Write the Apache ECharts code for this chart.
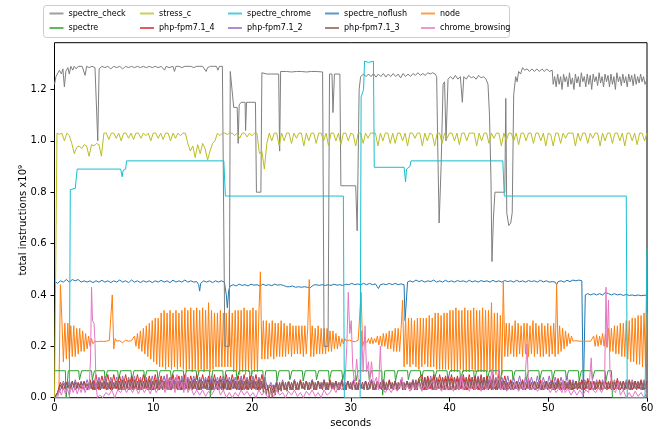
<!DOCTYPE html>
<html><head><meta charset="utf-8">
<script src="https://cdn.jsdelivr.net/npm/echarts@6.0.0/dist/echarts.min.js"></script>
<style>html,body{margin:0;padding:0;background:#fff}#c{width:660px;height:429px}</style>
</head><body><div id="c"></div>
<script>
// ---- axis ticks ----
const xTicks = [0, 10, 20, 30, 40, 50, 60];
const yTicks = [0.0, 0.2, 0.4, 0.6, 0.8, 1.0, 1.2];

// ---- sampled series (uniform time base) ----
const nodeStep = 0.15;   // seconds between samples
const node = [
.00,.01,.02,.03,.44,
.30,.14,.29,.15,.29,.15,.28,.16,.28,.16,.27,.17,.27,.18,.26,.18,
.25,.19,.24,.20,.23,.21,
.22,.225,.218,.222,.22,.224,.219,.221,.22,.218,.223,.22,
.40,.19,.23,
.22,.215,.222,.218,.214,.22,.224,.219,.22,.215,.222,.22,
.24,.20,.25,.19,.26,.18,.27,.17,.28,.16,.29,.15,.30,.14,.31,.13,.31,
.12,.33,.12,.34,.11,.33,.12,.34,.11,.33,.12,.34,.11,.33,.12,.34,.11,
.35,.10,.34,.11,.35,.10,.34,.11,.35,.10,.34,.11,.35,.10,.34,.11,.37,.10,.34,.11,
.33,.12,.33,.12,.34,.12,.33,.12,.33,.12,.34,.12,.33,
.10,.34,.10,.34,.09,.34,.10,.35,.09,.34,.10,.34,.09,.35,.10,.34,.10,.33,
.49,
.15,.30,.15,.30,.15,.29,.16,.30,.15,.29,.16,.29,.16,.30,.16,.29,.16,.28,.17,.29,.16,.28,.17,.28,.17,.28,.17,.28,.16,.28,.17,
.28,.46,
.16,.28,.16,.27,.17,.28,.17,.27,.17,.27,.17,.27,.18,.26,
.18,.26,.19,.25,.19,.24,.20,.23,.21,.23,
.22,.22,.225,.218,.22,.222,.218,.22,.224,.22,
.41,
.20,.22,.225,.215,.23,.21,.235,.21,.23,.215,.24,.205,.24,
.20,.25,.20,.25,.19,.26,.19,.26,.18,.27,.18,.27,.18,.27,
.38,
.12,.31,.13,.31,.12,.31,.13,.30,.12,.31,.11,.31,.12,.31,.13,.31,.12,.32,.12,.31,.12,
.33,.11,.33,.11,.32,.11,.33,.11,.33,.11,
.34,.10,.34,.10,.35,.10,.34,.11,.34,.10,.35,.10,.34,.10,.34,.11,.35,.10,.34,.10,.34,.10,.35,.10,.34,.10,.34,.10,
.37,
.08,.33,.09,.33,.08,.32,.09,
.45,
.16,.29,.16,.29,.17,.28,.16,.30,.16,.29,.17,.28,.16,.29,.17,.29,.16,.28,.17,.30,.16,.29,.17,.28,.16,.29,.16,.28,.17,.29,.16,.28,.17,.29,.16,
.44,.17,.28,.18,.27,.19,.26,.20,.25,.21,.24,.22,
.22,.222,.218,.22,.225,.22,.218,.22,.222,.22,.218,.22,.22,
.24,.20,.245,.20,.24,.205,.25,.20,.25,.195,
.27,.18,.27,.18,.28,.17,.28,.17,.29,.16,.29,.16,.30,.15,.30,.14,.31,.14,.31,.13,.32,.13,.32,.12,.33,.12,.33
];

const php3Step = 0.15;
const php3 = [
.0,.01,.02,.03,
.05,.035,.055,.035,.06,.04,.055,.035,.06,.04,.06,.035,.055,.04,.06,.035,.06,.04,.055,.035,
.06,.035,.065,.03,.06,.035,.065,.03,.06,.035,.065,.03,.06,.035,.065,.03,.06,.035,.065,.03,
.065,.03,.07,.03,.065,.035,.07,.03,.065,.03,.07,.035,.065,.03,.07,.03,.065,.035,.07,.03,
.07,.03,.065,.03,.07,.035,.065,.03,.07,.03,.065,.035,.07,.03,.065,.03,.07,.035,.065,.03,
.065,.03,.07,.03,.065,.035,.07,.03,.065,.03,.07,.035,.065,.03,.07,.03,.065,.035,.07,.03,
.07,.03,.065,.03,.07,.035,.065,.03,.07,.03,.065,.035,.07,.03,.065,.03,.07,.035,.065,.03,
.065,.03,.07,.03,.065,.035,.07,.03,.065,.03,.07,.035,.065,.03,.07,.03,.065,.02,.06,.01,
.05,.0,.04,.0,.05,.01,.055,.02,.06,.025,.06,.03,.06,.025,.06,.03,.06,.03,.065,.03,
.06,.03,.065,.035,.06,.03,.065,.03,.06,.035,.065,.03,.06,.03,.065,.035,.06,.03,.065,.03,
.06,.03,.065,.035,.06,.03,.065,.03,.06,.035,.065,.03,.06,.03,.065,.035,.06,.03,.065,.03,
.06,.03,.065,.035,.06,.03,.065,.03,.06,.035,.065,.03,.06,.03,.065,.035,.06,.03,.065,.03,
.06,.03,.065,.035,.06,.03,.065,.03,.06,.035,.065,.03,.06,.03,.065,.035,.06,.03,.065,.03,
.07,.03,.075,.035,.07,.03,.08,.03,.075,.035,.07,.03,.08,.03,.075,.035,.07,.03,.08,.03,
.075,.035,.08,.03,.075,.035,.08,.03,.075,.03,.08,.035,.075,.03,.08,.03,.075,.035,.08,.03,
.075,.035,.08,.03,.075,.03,.08,.035,.075,.03,.07,.03,.075,.035,.07,.03,.07,.03,.065,.03,
.065,.03,.06,.035,.065,.03,.06,.035,.065,.03,.06,.035,.065,.03,.06,.035,.065,.03,.06,.035,
.065,.03,.06,.035,.065,.03,.06,.035,.065,.03,.06,.035,.065,.03,.06,.035,.065,.03,.06,.035,
.065,.03,.06,.035,.065,.03,.06,.035,.065,.03,.06,.035,.065,.03,.06,.035,.065,.03,.06,.035,
.065,.03,.06,.035,.065,.03,.06,.035,.065,.03,.06,.035,.065,.03,.06,.035,.065,.03,.06,.035,
.065,.03,.06,.035,.065,.03,.06,.035,.065,.03,.06,.035,.065,.03,.06,.035,.065
];

const phpStep = 0.3;
const php4 = [
.0,.02,
.06,.03,.06,.035,.065,.03,.06,.035,.065,.03,.07,.03,
.09,.03,.085,.035,.09,.03,.09,.035,.085,.03,.09,.03,.085,.035,.09,.03,.09,.035,.085,.03,
.09,.03,.085,.035,.09,.03,.09,.035,.085,.03,.09,.03,.085,.035,.09,.03,.09,.035,.085,.03,
.09,.03,.085,.035,.09,.03,.09,.035,.085,.03,.09,.03,.085,.035,.09,.03,.09,.035,
.03,.05,.02,.06,.03,.06,.03,.065,.03,.07,
.03,.07,.035,.065,.03,.07,.03,.065,.035,.07,.03,.07,.035,.065,.03,.07,.03,.065,.035,.07,
.03,.07,.035,.065,.03,.07,.03,.065,.035,.07,.03,.07,.035,.065,.03,.07,.03,.065,.035,.07,
.03,.075,
.09,.03,.085,.035,.09,.03,.09,.035,.085,.03,.09,.03,.085,.035,.09,.03,.09,.035,.085,.03,
.09,.03,.085,.035,.09,.03,.09,.035,.085,.03,
.07,.03,.065,.035,.07,.03,.075,.03,.065,.035,.07,.03,.065,.035,.07,.03,.075,.03,.065,.035,
.07,.03,.065,.035,.07,.03,.075,.03,.065,.035,.07,.03,.065,.035,.07,.03,.075,.03,.065,.035,
.07,.03,.065,.035,.07,.03,.065
];
const php2 = [
.0,.01,
.03,.065,.035,.065,.03,.07,.035,.065,.03,.07,.035,.07,
.03,.08,.035,.085,.03,.08,.035,.08,.03,.085,.03,.08,.035,.085,.03,.08,.035,.08,.03,.085,
.03,.08,.035,.085,.03,.08,.035,.08,.03,.085,.03,.08,.035,.085,.03,.08,.035,.08,.03,.085,
.03,.08,.035,.085,.03,.08,.035,.08,.03,.085,.03,.08,.035,.085,.03,.08,.035,.08,
.03,.06,.035,.065,.03,.07,.03,.065,.035,.07,.03,.06,.035,.065,.03,.07,.03,.065,.035,.07,
.03,.06,.035,.065,.03,.07,.03,.065,.035,.07,.03,.06,.035,.065,.03,.07,.03,.065,.035,.07,
.03,.06,.035,.065,.03,.07,.03,.065,.035,.07,.03,.07,
.03,.08,.035,.085,.03,.08,.035,.08,.03,.085,.03,.08,.035,.085,.03,.08,.035,.08,.03,.085,
.03,.08,.035,.085,.03,.08,.035,.08,.03,.085,.03,.08,.035,.085,.03,.08,.035,.08,.03,.085,
.03,.08,.035,.085,.03,.08,.035,.08,.03,.085,
.03,.07,.035,.065,.03,.07,.035,.065,.03,.07,.03,.07,.035,.065,.03,.07,.035,.065,.03,.07,
.03,.07,.035,.065,.03,.07,.035
];

const stressStep = 0.25;
const stress_c = [
0,
1.03,1.025,1.03,1.0,1.03,1.02,
.99,.95,.975,.98,.97,.985,.98,.94,.985,.98,.99,.985,.94,
1.03,
1.03,1.005,1.03,1.03,1.01,1.03,1.0,1.03,1.03,1.01,1.03,1.005,1.03,1.03,1.01,1.03,1.02,1.03,1.0,1.03,1.03,1.01,1.03,1.005,1.03,1.03,1.0,1.03,1.01,1.03,1.02,1.03,
1.03,.99,.96,.98,.935,.985,.95,.99,.97,.925,.96,.99,1.0,
1.03,1.02,1.03,1.03,1.025,1.03,
1.03,1.02,1.03,1.01,1.03,1.03,1.015,1.03,1.02,1.03,1.03,
.95,.96,.89,.99,1.03,1.0,
1.03,1.03,.98,1.03,1.0,1.03,1.03,.99, 1.03,1.01,1.03,1.03,.98,1.03,1.0,1.03,
1.03,.99,1.03,1.03,1.0,1.03,.98,1.03, 1.03,1.0,1.03,.985,1.03,1.03,1.0,1.03,
1.025,.98,1.03,1.03,.99,1.03,1.01,1.03, 1.03,1.03,.98,1.03,1.0,1.03,1.03,.99,
1.03,.99,1.03,1.03,1.0,1.03,.98,1.03, 1.03,1.01,1.03,1.03,.98,1.03,1.0,1.03,
1.025,.98,1.03,1.03,.99,1.03,1.01,1.03, 1.03,1.0,1.03,.985,1.03,1.03,1.0,1.03,
1.03,1.03,.98,1.03,1.0,1.03,1.03,.99, 1.03,1.01,1.03,1.03,.98,1.03,1.0,1.03,
1.03,1.0,1.03,.985,1.03,1.03,1.0,1.03, 1.03,.99,1.03,1.03,1.0,1.03,.98,1.03,
1.025,.98,1.03,1.03,.99,1.03,1.01,1.03, 1.03,1.03,.98,1.03,1.0,1.03,1.03,.99,
1.03,1.01,1.03,1.03,.98,1.03,1.0,1.03, 1.03,.99,1.03,1.03,1.0,1.03,.98,1.03,
1.03,1.0,1.03,.985,1.03,1.03,1.0,1.03
];

// ---- series given as [seconds, value] samples ----
const spectre_check = [
[0,1.22],[0.15,1.25],[0.35,1.245],[0.5,1.275],[0.7,1.26],[0.85,1.28],[1.0,1.21],[1.15,1.27],[1.35,1.285],[1.5,1.26],[1.65,1.29],[1.85,1.275],[2.0,1.29],[2.2,1.28],[2.4,1.29],[2.6,1.285],[2.8,1.29],[3.0,1.29],[3.1,1.255],[3.25,1.29],[3.5,1.285],[3.8,1.29],[4.1,1.285],[4.3,1.29],[4.38,1.0],[4.45,0.995],[4.52,1.28],[4.8,1.29],[5.1,1.285],[5.4,1.29],[5.7,1.28],[6.0,1.29],[6.3,1.285],[6.6,1.29],[6.9,1.28],[7.2,1.29],[7.5,1.285],[7.8,1.29],[8.1,1.285],[8.4,1.29],[8.7,1.285],[9.0,1.29],[9.3,1.285],[9.6,1.29],[9.9,1.285],[10.2,1.29],[10.5,1.285],[10.8,1.29],[11.0,1.29],[11.15,1.275],[11.3,1.29],[11.6,1.285],[12.0,1.29],[12.15,1.27],[12.3,1.29],[12.6,1.29],[12.9,1.285],[13.2,1.29],[13.5,1.29],[13.8,1.29],[14.1,1.285],[14.4,1.29],[14.7,1.29],[15.0,1.29],[15.2,1.285],[15.35,1.27],[15.5,1.285],[15.8,1.29],[16.1,1.29],[16.4,1.29],[16.55,1.275],[16.7,1.29],[17.0,1.29],[17.15,1.29],
[17.25,0.2],[17.7,0.2],[17.8,1.27],[17.95,1.27],[18.15,1.13],[18.5,1.13],[18.6,0.99],[18.7,1.14],[18.9,1.15],[19.3,1.15],[19.35,1.04],[19.45,1.15],[20.35,1.15],[20.45,0.80],[20.9,0.80],[21.0,1.265],[21.5,1.26],[22.0,1.26],[22.7,1.26],[22.8,0.96],[22.9,1.27],[23.5,1.27],[24.0,1.268],[24.5,1.27],[25.0,1.27],[25.5,1.268],[26.0,1.27],[26.5,1.27],[27.15,1.268],
[27.3,0.2],[27.7,0.2],[27.85,1.26],[28.1,1.26],[28.2,1.11],[28.35,1.26],[28.6,1.26],[28.9,1.26],[29.0,0.825],[30.5,0.825],[30.65,0.65],[30.85,1.2],[31.0,1.25],
[31.3,1.26],[31.55,1.25],[31.8,1.26],[32.05,1.25],[32.3,1.262],[32.55,1.248],[32.8,1.26],[33.05,1.25],[33.3,1.262],[33.55,1.248],[33.8,1.26],[34.05,1.25],[34.3,1.262],[34.55,1.25],[34.8,1.26],[35.05,1.245],[35.3,1.262],[35.55,1.25],[35.8,1.26],[36.05,1.25],[36.3,1.262],[36.55,1.255],[36.8,1.265],[37.05,1.255],[37.3,1.262],[37.55,1.255],[37.8,1.265],[38.05,1.26],[38.3,1.265],[38.55,1.26],
[38.7,1.25],[38.8,1.0],[38.95,0.68],[39.15,0.9],[39.35,1.22],[39.5,1.23],[39.65,1.0],[39.85,1.24],[40.1,1.25],[40.35,1.24],[40.6,1.255],[40.85,1.24],[41.1,1.25],[41.3,1.15],[41.45,1.25],[41.7,1.24],[41.95,1.255],[42.2,1.245],[42.45,1.25],[42.7,1.24],[42.95,1.255],[43.2,1.245],[43.45,1.25],[43.7,1.24],[43.9,1.22],[44.05,1.1],[44.2,0.85],[44.3,0.53],[44.45,0.7],[44.6,0.80],[45.6,0.80],[45.7,1.165],[45.8,0.72],[46.0,0.67],[46.2,0.68],[46.35,0.72],[46.5,1.18],[46.7,1.25],[46.85,1.23],[47.0,1.27],[47.2,1.26],[47.4,1.285],[47.6,1.275],[47.85,1.28],[48.1,1.27],[48.35,1.28],[48.6,1.27],[48.85,1.28],[49.1,1.27],[49.35,1.28],[49.6,1.27],[49.85,1.28],[50.1,1.27],[50.4,1.275],[50.5,1.22],
[50.65,1.25],[50.8,1.21],[50.95,1.26],[51.1,1.22],[51.25,1.25],[51.4,1.2],[51.55,1.26],[51.7,1.23],[51.85,1.25],[52.0,1.21],[52.15,1.265],[52.3,1.22],[52.45,1.245],[52.6,1.2],[52.75,1.26],[52.9,1.225],[53.05,1.25],[53.2,1.21],[53.35,1.265],[53.5,1.23],[53.65,1.25],[53.8,1.21],[53.95,1.26],[54.1,1.22],[54.25,1.255],[54.4,1.2],[54.55,1.26],[54.7,1.23],[54.85,1.25],[55.0,1.215],[55.15,1.265],[55.3,1.225],[55.45,1.25],[55.6,1.21],[55.75,1.26],[55.9,1.23],[56.05,1.255],[56.2,1.21],[56.35,1.26],[56.5,1.22],[56.65,1.25],[56.8,1.2],[56.95,1.265],[57.1,1.23],[57.25,1.25],[57.4,1.215],[57.55,1.26],[57.7,1.225],[57.85,1.25],[58.0,1.21],[58.15,1.26],[58.3,1.23],[58.45,1.255],[58.6,1.215],[58.75,1.26],[58.9,1.22],[59.05,1.25],[59.2,1.225],[59.35,1.26],[59.5,1.23],[59.65,1.25],[59.8,1.22],[60,1.24]
];

const spectre_chrome = [
[0,0],[1.5,0],[1.6,0.81],[2.1,0.815],[2.3,0.89],[6.7,0.89],[6.85,0.86],[6.95,0.885],[7.2,0.89],[7.3,0.922],[17.15,0.922],[17.3,0.785],[29.25,0.785],[29.35,0],[30.95,0],[31.05,1.17],[31.3,1.2],[31.4,1.31],[31.8,1.305],[32.0,1.31],[32.3,1.31],[32.38,0.897],[35.4,0.897],[35.55,0.84],[35.65,0.89],[36.0,0.9],[36.1,0.922],[45.4,0.922],[45.55,0.785],[57.9,0.785],[58.0,0],[59.8,0],[60,0.58]
];

const spectre_noflush = [
[0,.455],[0.3,.445],[0.6,.455],[0.9,.45],[1.2,.46],[1.5,.45],[1.8,.46],[2.1,.455],[2.4,.46],[2.7,.45],[3.0,.455],[3.3,.45],[3.6,.455],[3.9,.448],[4.2,.455],[4.5,.45],[4.8,.457],[5.1,.45],[5.4,.455],[5.7,.448],[6.0,.455],[6.3,.45],[6.6,.458],[6.9,.45],[7.2,.455],[7.5,.448],[7.8,.458],[8.1,.45],[8.4,.455],[8.7,.448],[9.0,.455],[9.3,.45],[9.6,.455],[9.9,.448],[10.2,.455],[10.5,.45],[10.8,.457],[11.1,.45],[11.4,.455],[11.7,.448],[12.0,.458],[12.3,.45],[12.6,.455],[12.9,.45],[13.2,.458],[13.5,.45],[13.8,.455],[14.1,.45],[14.4,.452],[14.6,.44],[14.7,.415],[14.8,.445],[15.1,.455],[15.4,.45],[15.7,.455],[16.0,.448],[16.3,.455],[16.6,.45],[16.9,.455],[17.2,.45],[17.4,.40],[17.5,.35],[17.65,.42],[17.8,.435],[18.1,.44],[18.4,.435],[18.7,.442],[19.0,.437],[19.3,.44],[19.6,.435],[19.9,.442],[20.2,.438],[20.5,.44],[20.8,.435],[21.1,.442],[21.4,.437],[21.7,.44],[22.0,.436],[22.3,.442],[22.6,.438],[22.9,.44],[23.2,.437],[23.5,.432],[23.8,.432],[24.1,.435],[24.4,.43],[24.7,.432],[25.0,.43],[25.3,.432],[25.6,.43],[25.9,.428],[26.2,.438],[26.5,.44],[26.8,.437],[27.1,.44],[27.4,.437],[27.7,.44],[28.0,.437],[28.3,.442],[28.6,.438],[28.9,.44],[29.2,.437],[29.5,.442],[29.8,.44],[30.1,.445],[30.4,.44],[30.7,.443],[31.0,.44],[31.3,.445],[31.6,.44],[31.9,.445],[32.2,.44],[32.5,.443],[32.8,.425],[33.0,.44],[33.3,.443],[33.6,.44],[33.9,.445],[34.2,.44],[34.5,.445],[34.8,.44],[35.1,.443],[35.4,.44],[35.5,.30],[35.65,.30],[35.75,.45],
[36.0,.455],[36.3,.45],[36.6,.458],[36.9,.452],[37.2,.456],[37.5,.45],[37.8,.455],[38.1,.452],[38.4,.458],[38.7,.45],[39.0,.455],[39.3,.45],[39.6,.457],[39.9,.451],[40.2,.455],[40.5,.45],[40.8,.456],[41.1,.452],[41.4,.455],[41.7,.45],[42.0,.457],[42.3,.451],[42.6,.455],[42.9,.45],[43.2,.456],[43.5,.452],[43.8,.455],[44.1,.45],[44.4,.457],[44.7,.451],[45.0,.455],[45.3,.45],[45.6,.456],[45.9,.452],[46.2,.455],[46.5,.45],[46.8,.457],[47.1,.451],[47.4,.455],[47.7,.45],[48.0,.456],[48.3,.452],[48.6,.455],[48.9,.45],[49.2,.457],[49.5,.451],[49.8,.455],[50.1,.45],[50.4,.452],[50.7,.45],[50.85,.44],[51.0,.452],[51.3,.455],[51.6,.45],[51.9,.457],[52.2,.452],[52.5,.458],[52.8,.455],[53.1,.458],[53.4,.455],[53.5,.45],[53.55,.0],[53.65,.0],[53.75,.40],[54.0,.405],[54.3,.40],[54.6,.405],[54.9,.40],[55.2,.405],[55.5,.40],[55.8,.41],[56.1,.405],[56.4,.40],[56.7,.405],[57.0,.40],[57.3,.403],[57.6,.398],[57.9,.402],[58.2,.398],[58.5,.40],[58.8,.397],[59.1,.40],[59.4,.397],[59.7,.399],[60,.398]
];

const spectre = [
[0,.105],
[1.1,.105],[1.18,.0],[1.32,.0],[1.4,.105],
[2.45,.105],[2.53,.07],[2.67,.07],[2.75,.105],
[3.75,.105],[3.83,.07],[3.97,.07],[4.05,.105],
[5.05,.105],[5.13,.065],[5.27,.065],[5.35,.105],
[6.4,.105],[6.48,.07],[6.62,.07],[6.7,.105],
[7.75,.105],[7.83,.065],[7.97,.065],[8.05,.105],
[9.05,.105],[9.13,.07],[9.27,.07],[9.35,.105],
[10.4,.105],[10.48,.065],[10.62,.065],[10.7,.105],
[11.75,.105],[11.83,.07],[11.97,.07],[12.05,.105],
[13.05,.105],[13.13,.065],[13.27,.065],[13.35,.105],
[14.35,.105],[14.43,.07],[14.57,.07],[14.65,.105],
[15.7,.105],[15.78,.0],[15.92,.0],[16.0,.105],
[17.05,.105],[17.13,.03],[17.27,.03],[17.35,.105],
[18.4,.105],[18.48,.07],[18.62,.07],[18.7,.105],
[19.75,.105],[19.83,.065],[19.97,.065],[20.05,.105],
[21.1,.105],[21.18,.04],[21.32,.04],[21.4,.105],
[22.45,.105],[22.53,.065],[22.67,.065],[22.75,.105],
[23.75,.105],[23.83,.07],[23.97,.07],[24.05,.105],
[25.1,.105],[25.18,.065],[25.32,.065],[25.4,.105],
[26.45,.105],[26.53,.07],[26.67,.07],[26.75,.105],
[27.75,.105],[27.83,.065],[27.97,.065],[28.05,.105],
[29.1,.105],[29.18,.07],[29.32,.07],[29.4,.105],
[30.45,.105],[30.53,.065],[30.67,.065],[30.75,.105],
[31.8,.105],[31.88,.07],[32.02,.07],[32.1,.105],
[33.15,.105],[33.23,.01],[33.37,.01],[33.45,.105],
[34.45,.105],[34.53,.065],[34.67,.065],[34.75,.105],
[35.75,.105],[35.83,.07],[35.97,.07],[36.05,.105],
[37.05,.105],[37.13,.065],[37.27,.065],[37.35,.105],
[38.4,.105],[38.48,.07],[38.62,.07],[38.7,.105],
[39.75,.105],[39.83,.065],[39.97,.065],[40.05,.105],
[41.05,.105],[41.13,.07],[41.27,.07],[41.35,.105],
[42.45,.105],[42.53,.065],[42.67,.065],[42.75,.105],
[43.75,.105],[43.83,.07],[43.97,.07],[44.05,.105],
[45.05,.105],[45.13,.065],[45.27,.065],[45.35,.105],
[46.35,.105],[46.43,.07],[46.57,.07],[46.65,.105],
[47.7,.105],[47.78,.065],[47.92,.065],[48.0,.105],
[49.05,.105],[49.13,.07],[49.27,.07],[49.35,.105],
[50.35,.105],[50.43,.065],[50.57,.065],[50.65,.105],
[51.75,.105],[51.83,.07],[51.97,.07],[52.05,.105],
[53.05,.105],[53.13,.065],[53.27,.065],[53.35,.105],
[54.4,.105],[54.48,.07],[54.62,.07],[54.7,.105],
[55.75,.105],[55.83,.065],[55.97,.065],[56.05,.105],
[56.4,.105],[56.5,0],[60,0]
];

const chrome_browsing = [
[0,0],[0.3,0],[0.5,.03],[0.7,.01],[0.9,.04],[1.1,.015],[1.3,.035],[1.5,.01],[1.7,.04],[1.9,.02],[2.1,.045],[2.3,.015],[2.5,.04],[2.7,.02],[2.9,.05],[3.1,.02],[3.3,.045],[3.5,.03],[3.65,.15],[3.75,.43],[3.85,.3],[4.0,.29],[4.1,.22],[4.2,.05],[4.35,0],[4.6,.01],[4.9,0],[5.2,.02],[5.5,.01],[5.8,.03],[6.1,.0],[6.4,.03],[6.7,.02],[7.0,.04],[7.3,.02],[7.6,.045],[7.9,.02],[8.2,.04],[8.5,.015],[8.8,.045],[9.1,.02],[9.4,.04],[9.7,.015],[10.0,.05],[10.3,.02],[10.6,.04],[10.9,.06],[11.2,.02],[11.4,.09],[11.6,.03],[11.9,.07],[12.2,.02],[12.4,.09],[12.6,.03],[12.9,.06],[13.1,.02],[13.3,.09],[13.5,.02],[13.8,.04],[14.1,.01],[14.4,.03],[14.7,.01],[15.0,.03],[15.3,.005],[15.6,.025],[15.9,.01],[16.2,.03],[16.5,.05],[16.8,.01],[17.1,.03],[17.4,.0],[17.7,.02],[18.0,.0],[18.3,.02],[18.6,.005],[18.9,.03],[19.2,.01],[19.5,.025],[19.8,.005],[20.1,.02],[20.4,.0],[20.7,.03],[21.0,.01],[21.3,.025],[21.6,.0],[21.9,.02],[22.2,.005],[22.5,.03],[22.8,.01],[23.1,.02],[23.4,.0],[23.7,.025],[24.0,.01],[24.3,.03],[24.6,.005],[24.9,.02],[25.2,.0],[25.5,.025],[25.8,.01],[26.1,.03],[26.4,.005],[26.7,.02],[27.0,.0],[27.3,.03],[27.6,.01],[27.9,.02],[28.2,.04],[28.5,.02],[28.8,.05],[29.1,.03],[29.4,.05],[29.6,.2],[29.75,.41],[29.9,.25],[30.05,.3],[30.2,.12],[30.4,.05],[30.6,.15],[30.75,.07],[31.0,.05],[31.1,.26],[31.25,.1],[31.45,.28],[31.6,.1],[31.8,.14],[31.9,.06],[32.1,.14],[32.3,.05],[32.6,.08],[32.8,.03],[33.0,.2],[33.15,.04],[33.5,.02],[33.8,.04],[34.1,.02],[34.4,.045],[34.7,.025],[35.0,.05],[35.2,.08],[35.4,.03],[35.7,.05],[36.0,.025],[36.3,.05],[36.6,.03],[36.9,.055],[37.2,.025],[37.5,.05],[37.8,.03],[38.1,.055],[38.4,.07],[38.6,.03],[38.9,.05],[39.2,.025],[39.5,.055],[39.8,.03],[40.1,.05],[40.4,.025],[40.7,.06],[41.0,.03],[41.2,.09],[41.4,.03],[41.7,.055],[42.0,.025],[42.3,.05],[42.6,.03],[42.9,.055],[43.2,.025],[43.5,.05],[43.8,.03],[44.1,.06],[44.3,.11],[44.5,.04],[44.8,.06],[45.0,.11],[45.2,.03],[45.5,.05],[45.8,.025],[46.1,.05],[46.4,.03],[46.7,.055],[47.0,.025],[47.3,.05],[47.6,.03],[47.85,.21],[48.0,.04],[48.3,.03],[48.6,.05],[48.9,.025],[49.2,.04],[49.4,.07],[49.6,.03],[49.9,.045],[50.2,.02],[50.5,.04],[50.8,.02],[51.1,.04],[51.4,.02],[51.5,.07],[51.7,.02],[52.0,.035],[52.3,.01],[52.6,.03],[52.9,.01],[53.2,.03],[53.5,.01],[53.8,.03],[54.1,.02],[54.35,.155],[54.5,.03],[54.8,.02],[55.1,.04],[55.4,.02],[55.7,.05],[55.85,.43],[55.95,.2],[56.1,.38],[56.25,.1],[56.5,.03],[56.8,.02],[57.1,.06],[57.3,.01],[57.6,.03],[57.9,.0],[58.2,.02],[58.5,.0],[58.8,.025],[59.1,.005],[59.4,.02],[59.7,.0],[60,.02]
];

// ---- build chart ----
const toXY = (arr, step) => arr.map((v, i) => [+(i * step).toFixed(3), v]);
const FONT = 'DejaVu Sans';
function line(name, data, color) {
  return {
    name, type: 'line', data, symbol: 'none', showSymbol: false, silent: true,
    lineStyle: { width: 1, color }, itemStyle: { color },
    emphasis: { disabled: true }, animation: false, sampling: null, clip: true
  };
}
const series = [
  line('spectre_noflush', spectre_noflush, '#1f77b4'),
  line('node', toXY(node, nodeStep), '#ff7f0e'),
  line('spectre', spectre, '#2ca02c'),
  line('php-fpm7.1_4', toXY(php4, phpStep), '#d62728'),
  line('php-fpm7.1_2', toXY(php2, phpStep), '#9467bd'),
  line('php-fpm7.1_3', toXY(php3, php3Step), '#8c564b'),
  line('chrome_browsing', chrome_browsing, '#e377c2'),
  line('spectre_check', spectre_check, '#7f7f7f'),
  line('stress_c', toXY(stress_c, stressStep), '#bcbd22'),
  line('spectre_chrome', spectre_chrome, '#17becf')
];
const legendCols = [
  ['spectre_check', 'spectre', 49.5],
  ['stress_c', 'php-fpm7.1_4', 140],
  ['spectre_chrome', 'php-fpm7.1_2', 228],
  ['spectre_noflush', 'php-fpm7.1_3', 325],
  ['node', 'chrome_browsing', 421]
];
const legend = legendCols.map(c => ({
  data: [c[0], c[1]], orient: 'vertical', left: c[2], top: 8.5, padding: 0,
  itemGap: 4.5, itemWidth: 14, itemHeight: 2, icon: 'rect', selectedMode: false,
  itemStyle: { opacity: 0.75 },
  textStyle: { fontFamily: FONT, fontSize: 8, color: '#000', lineHeight: 10, padding: 0 }
}));

const chart = echarts.init(document.getElementById('c'), null, { renderer: 'canvas', width: 660, height: 429 });
chart.setOption({
  animation: false,
  backgroundColor: '#fff',
  legend,
  graphic: [{
    type: 'rect', left: 43, top: 5, z: -1,
    shape: { width: 466, height: 32, r: 3 },
    style: { fill: '#fff', stroke: '#cccccc', lineWidth: 1 }
  }],
  grid: { left: 54.5, right: 13, top: 42.7, bottom: 31.3, show: true, borderColor: '#000', borderWidth: 1,
          backgroundColor: 'transparent', containLabel: false, outerBoundsMode: 'none' },
  xAxis: {
    type: 'value', min: xTicks[0], max: xTicks[xTicks.length - 1], interval: 10,
    name: 'seconds', nameLocation: 'middle', nameGap: 15,
    nameTextStyle: { fontFamily: FONT, fontSize: 10, color: '#000' },
    axisLine: { show: false }, splitLine: { show: false },
    axisTick: { show: true, length: 4, lineStyle: { color: '#000' } },
    axisLabel: { fontFamily: FONT, fontSize: 10, color: '#000', margin: 6,
      formatter: v => xTicks.includes(v) ? String(v) : '' }
  },
  yAxis: {
    type: 'value', min: 0, max: 1.382, interval: 0.2,
    name: 'total instructions x10\u2079', nameLocation: 'middle', nameGap: 26, nameRotate: 90,
    nameMoveOverlap: false,
    nameTextStyle: { fontFamily: FONT, fontSize: 10, color: '#000' },
    axisLine: { show: false }, splitLine: { show: false },
    axisTick: { show: true, length: 4, lineStyle: { color: '#000' } },
    axisLabel: { fontFamily: FONT, fontSize: 10, color: '#000', margin: 8, showMaxLabel: false,
      formatter: v => { const k = yTicks.findIndex(t => Math.abs(t - v) < 1e-6); return k >= 0 ? yTicks[k].toFixed(1) : ''; } }
  },
  series
});
</script></body></html>
